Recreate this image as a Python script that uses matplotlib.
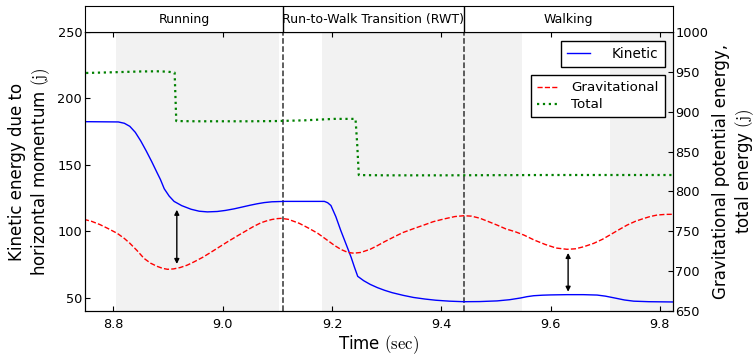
import numpy as np
import matplotlib
matplotlib.use("Agg")
from matplotlib import pyplot as plt

plt.rcParams["mathtext.fontset"] = "cm"
plt.rcParams["font.family"] = "DejaVu Sans"

# kinetic energy (left axis, j)
t_kin = [8.75, 8.809, 8.82, 8.83, 8.84, 8.85, 8.86, 8.87, 8.88, 8.886, 8.893, 8.902,
         8.911, 8.925, 8.942, 8.957, 8.972, 8.99, 9.005, 9.021, 9.035, 9.05, 9.063,
         9.076, 9.09, 9.113, 9.186, 9.192, 9.198, 9.207, 9.216, 9.226, 9.235, 9.241,
         9.247, 9.258, 9.27, 9.283, 9.296, 9.31, 9.33, 9.349, 9.37, 9.39, 9.415,
         9.441, 9.47, 9.502, 9.525, 9.545, 9.557, 9.569, 9.585, 9.60, 9.63, 9.66,
         9.685, 9.70, 9.716, 9.735, 9.752, 9.78, 9.823]
kinetic = [182.5, 182.3, 181.3, 179, 174.5, 168, 160.5, 152.5, 144, 139, 132, 126.5,
           122.5, 119.3, 116.6, 115.1, 114.6, 114.9, 115.7, 116.9, 118.2, 119.6, 120.7,
           121.6, 122.2, 122.5, 122.5, 121.5, 119.4, 111, 100.6, 90, 80.4, 73,
           66.1, 62.8, 60, 57.6, 55.6, 53.8, 51.8, 50.2, 49, 48.1, 47.4,
           47.0, 47.1, 47.6, 48.5, 49.8, 50.8, 51.5, 51.9, 52.1, 52.3, 52.3,
           52.0, 51.2, 49.9, 48.3, 47.4, 47.0, 46.8]

# gravitational potential energy (right axis, j)
t_grav = [8.746, 8.76, 8.775, 8.79, 8.807, 8.82, 8.83, 8.843, 8.856, 8.868, 8.88,
          8.89, 8.899, 8.91, 8.922, 8.935, 8.948, 8.963, 8.978, 8.993, 9.009, 9.025,
          9.04, 9.055, 9.070, 9.08, 9.09, 9.1, 9.107, 9.12, 9.14, 9.157, 9.174, 9.19,
          9.205, 9.217, 9.229, 9.24, 9.253, 9.27, 9.283, 9.296, 9.315, 9.33, 9.35,
          9.368, 9.385, 9.405, 9.425, 9.441, 9.455, 9.47, 9.485, 9.502, 9.518, 9.535,
          9.551, 9.57, 9.59, 9.61, 9.630, 9.645, 9.66, 9.679, 9.695, 9.71, 9.725,
          9.740, 9.755, 9.77, 9.782, 9.795, 9.81, 9.823]
grav = [765, 762.5, 758.5, 753.5, 747.4, 741, 735, 726, 716, 710, 706,
        703.5, 702.3, 702.8, 704.5, 707.5, 711.8, 717.2, 723.5, 730, 736.9, 743.5,
        749.5, 755.5, 760.7, 763, 764.8, 765.9, 766.2, 765, 760, 754, 747.4, 739.5,
        732, 727, 723.5, 722.5, 723.5, 727.5, 732, 736.9, 743.5, 748.5, 753.5,
        757.8, 762, 765.5, 768.5, 769.5, 769, 766.5, 762.5, 757.8, 753, 749.5,
        745.3, 739, 733.5, 729, 727.4, 728, 730.5, 734.9, 740, 746, 752,
        757.8, 762.5, 766, 768.5, 770.4, 771.2, 771.3]

# total energy (right axis, j)
t_tot = [8.75, 8.80, 8.85, 8.88, 8.90, 8.912, 8.915, 8.95, 9.00, 9.05, 9.10, 9.15,
         9.203, 9.243, 9.246, 9.249, 9.30, 9.40, 9.50, 9.60, 9.70, 9.823]
total = [948.6, 949.5, 950.5, 950.7, 950.2, 949.0, 888.3, 888.0, 888.0, 888.0, 888.3,
         889.2, 891.0, 891.0, 860.0, 820.5, 820.2, 820.2, 820.4, 820.6, 820.6, 820.6]

# phase boundaries and shaded stance intervals
phase_bounds = [9.11, 9.441]
phase_names = ["Running", "Run-to-Walk Transition (RWT)", "Walking"]
shade_spans = [(8.805, 9.103), (9.182, 9.548), (9.709, 9.83)]

# double arrows (time, left-axis top, left-axis bottom)
arrow_t = [8.916, 9.632]
arrow_top = [116.2, 83.7]
arrow_bot = [75.4, 54.5]

xmin, xmax = 8.748, 9.823

fig = plt.figure(figsize=(7.56, 3.55), dpi=100)
ax = fig.add_axes([85 / 756, 1 - 311 / 355, 587.5 / 756, 279 / 355])
ax2 = ax.twinx()
top = fig.add_axes([85 / 756, 1 - 32 / 355, 587.5 / 756, 26 / 355])

for a, b in shade_spans:
    ax.axvspan(a, b, color="#f2f2f2", lw=0, zorder=0)
for b in phase_bounds:
    ax.axvline(b, color="#333333", ls="--", lw=1.1, zorder=1)

ax.plot(t_kin, kinetic, color="b", lw=1.0, label="Kinetic", zorder=3)
ax2.plot(t_grav, grav, color="r", ls="--", lw=1.0, label="Gravitational")
ax2.plot(t_tot, total, color="g", ls=":", lw=1.6, label="Total")

for t, y1, y2 in zip(arrow_t, arrow_top, arrow_bot):
    ax.annotate("", xy=(t, y1), xytext=(t, y2),
                arrowprops=dict(arrowstyle="<|-|>", color="k", lw=1.0,
                                mutation_scale=7, shrinkA=0, shrinkB=0), zorder=4)

ax.set_xlim(xmin, xmax)
ax.set_ylim(40, 250)
ax2.set_ylim(650, 1000)
ax.set_xticks([8.8, 9.0, 9.2, 9.4, 9.6, 9.8])
ax.set_yticks([50, 100, 150, 200, 250])
ax2.set_yticks([650, 700, 750, 800, 850, 900, 950, 1000])

ax.tick_params(axis="x", direction="in", top=True, length=3.5, labelsize=9.3, pad=5)
ax.tick_params(axis="y", direction="in", length=3.5, labelsize=9.3, pad=2)
ax2.tick_params(axis="y", direction="in", length=3.5, labelsize=9.3, pad=2)

ax.set_xlabel(r"Time $\mathrm{(sec)}$", fontsize=12, labelpad=2)
ax.set_ylabel("Kinetic energy due to\nhorizontal momentum $\\mathrm{(j)}$", fontsize=12,
              labelpad=4)
ax2.set_ylabel("Gravitational potential energy,\ntotal energy $\\mathrm{(j)}$",
               fontsize=12, labelpad=3)

# phase header
top.set_xlim(xmin, xmax)
top.set_ylim(0, 1)
top.set_xticks([])
top.set_yticks([])
for b in phase_bounds:
    top.axvline(b, color="k", lw=1.0)
edges = [xmin] + phase_bounds + [xmax]
for name, a, b in zip(phase_names, edges[:-1], edges[1:]):
    top.text((a + b) / 2, 0.5, name, ha="center", va="center", fontsize=9)

leg1 = ax.legend(loc="upper right", bbox_to_anchor=(664.5 / 756, 1 - 40.7 / 355),
                 bbox_transform=fig.transFigure, borderaxespad=0, fancybox=False,
                 edgecolor="k", framealpha=1, fontsize=9.8, handlelength=1.7,
                 handletextpad=1.6, borderpad=0.45)
leg1.get_frame().set_linewidth(1.0)
leg2 = ax2.legend(loc="upper right", bbox_to_anchor=(664.7 / 756, 1 - 75.3 / 355),
                  bbox_transform=fig.transFigure, borderaxespad=0, fancybox=False,
                  edgecolor="k", framealpha=1, fontsize=9.6, handlelength=1.5,
                  handletextpad=1.1, borderpad=0.45, labelspacing=0.3)
leg2.get_frame().set_linewidth(1.0)

fig.savefig("out.png", dpi=100)
